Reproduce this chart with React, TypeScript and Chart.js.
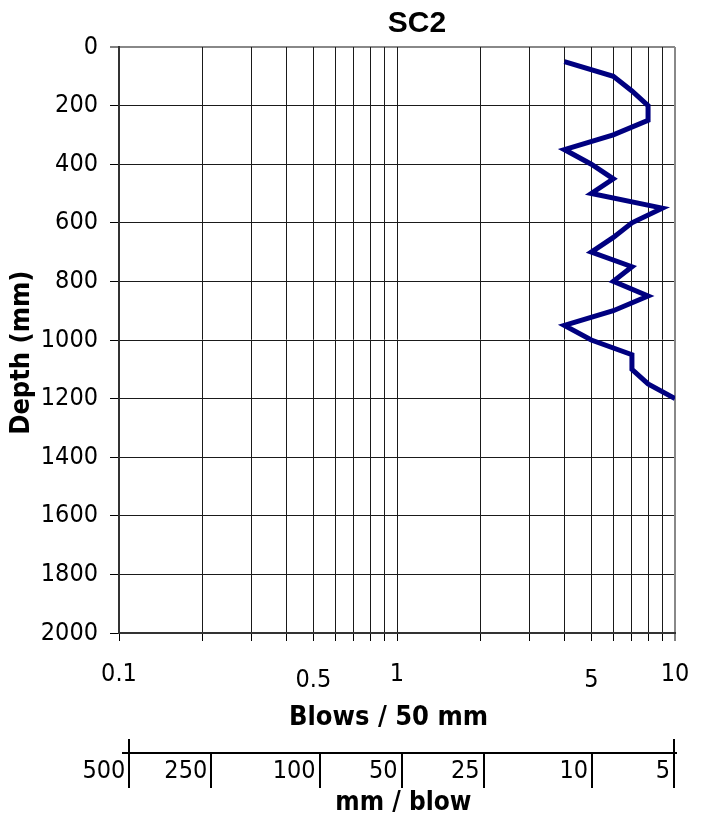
import React, { useEffect, useRef } from 'react';
import { Chart, registerables } from 'chart.js';

Chart.register(...registerables);

// ---- data ----
const depthsMm = [50, 100, 150, 200, 250, 300, 350, 400, 450, 500, 550, 600, 650, 700, 750, 800, 850, 900, 950, 1000, 1050, 1100, 1150, 1200];
const blowsPer50mm = [4, 6, 7, 8, 8, 6, 4, 5, 6, 5, 9, 7, 6, 5, 7, 6, 8, 6, 4, 5, 7, 7, 8, 10];

const blowsGridValues = [0.1, 0.2, 0.3, 0.4, 0.5, 0.6, 0.7, 0.8, 0.9, 1, 2, 3, 4, 5, 6, 7, 8, 9, 10];
const blowsTickLabels = [0.1, 0.5, 1, 5, 10];
const blowsLoweredLabels = [0.5, 5];
const depthMin = 0;
const depthMax = 2000;
const depthStep = 200;
const mmPerBlowTicks = [500, 250, 100, 50, 25, 10, 5];

const chartTitle = 'SC2';
const yTitle = 'Depth (mm)';
const xTitle = 'Blows / 50 mm';
const x2Title = 'mm / blow';

const FONT = "'DejaVu Sans Condensed', 'DejaVu Sans', sans-serif";
const NBSP = '\u00a0';

export default function App() {
  const mainRef = useRef<HTMLCanvasElement | null>(null);
  const axisRef = useRef<HTMLCanvasElement | null>(null);

  useEffect(() => {
    const main = new Chart(mainRef.current as HTMLCanvasElement, {
      type: 'scatter',
      data: {
        datasets: [
          {
            data: depthsMm.map((d, i) => ({ x: blowsPer50mm[i], y: d })),
            showLine: true,
            borderColor: '#000080',
            backgroundColor: '#000080',
            borderWidth: 5,
            pointRadius: 0,
            pointHoverRadius: 0,
            tension: 0,
            xAxisID: 'x',
            yAxisID: 'y',
          } as any,
        ],
      },
      options: {
        responsive: false,
        animation: false,
        events: [],
        layout: { padding: 0 },
        plugins: {
          legend: { display: false },
          tooltip: { enabled: false },
          title: {
            display: true,
            text: chartTitle,
            color: '#000',
            font: { family: "'Liberation Sans', Arial, sans-serif", size: 30, weight: 'bold', lineHeight: 1.2 },
            padding: { top: 6, bottom: 5 },
          },
        },
        scales: {
          y: {
            type: 'linear',
            position: 'left',
            reverse: true,
            min: depthMin,
            max: depthMax,
            ticks: {
              stepSize: depthStep,
              color: '#000',
              font: { family: FONT, size: 25 },
              padding: 12,
              callback: (v: any) => String(v),
            },
            grid: {
              color: (ctx: any) => (ctx.tick && ctx.tick.value === depthMin ? '#888888' : '#1a1a1a'),
              lineWidth: (ctx: any) => (ctx.tick && ctx.tick.value === depthMin ? 2 : 1),
              tickLength: 9,
              tickColor: '#000',
              tickWidth: 1,
            },
            border: { color: '#333', width: 2 },
            title: {
              display: true,
              text: yTitle + NBSP + NBSP + NBSP,
              color: '#000',
              font: { family: FONT, size: 27, weight: 'bold', lineHeight: 1.2 },
              padding: { top: 5.8, bottom: 0 },
            },
            afterFit: (s: any) => {
              s.width = 119;
            },
          },
          x: {
            type: 'logarithmic',
            position: 'bottom',
            min: blowsGridValues[0],
            max: blowsGridValues[blowsGridValues.length - 1],
            afterBuildTicks: (s: any) => {
              s.ticks = blowsGridValues.map((v) => ({ value: v }));
            },
            ticks: {
              autoSkip: false,
              maxRotation: 0,
              minRotation: 0,
              color: '#000',
              padding: 18,
              font: (ctx: any) => ({
                family: FONT,
                size: 25,
                lineHeight: ctx.tick && blowsLoweredLabels.includes(ctx.tick.value) ? '42px' : '30px',
              }),
              callback: (v: any) => (blowsTickLabels.includes(Number(v)) ? String(v) : ''),
            },
            grid: {
              color: (ctx: any) => (ctx.tick && ctx.tick.value === 10 ? '#888888' : '#1a1a1a'),
              lineWidth: (ctx: any) => (ctx.tick && ctx.tick.value === 10 ? 2 : 1),
              tickLength: 8,
              tickColor: '#000',
              tickWidth: 1,
            },
            border: { color: '#333', width: 2 },
            title: {
              display: true,
              text: xTitle + NBSP + NBSP,
              color: '#000',
              font: { family: FONT, size: 27, weight: 'bold', lineHeight: 1.2 },
              padding: { top: 0, bottom: 5.5 },
            },
            afterFit: (s: any) => {
              s.height = 107;
            },
          },
          yR: {
            type: 'linear',
            position: 'right',
            display: true,
            grid: { display: false },
            ticks: { display: false },
            border: { display: false },
            afterFit: (s: any) => {
              s.width = 159;
            },
          },
        } as any,
      },
    });

    const secondary = new Chart(axisRef.current as HTMLCanvasElement, {
      type: 'scatter',
      data: { datasets: [] },
      options: {
        responsive: false,
        animation: false,
        events: [],
        layout: { padding: { left: 123, right: 28.5, top: 19, bottom: 0 } },
        plugins: { legend: { display: false }, tooltip: { enabled: false }, title: { display: false } },
        scales: {
          x: {
            type: 'logarithmic',
            position: 'bottom',
            reverse: true,
            min: 4.937,
            max: 527.4,
            afterBuildTicks: (s: any) => {
              s.ticks = mmPerBlowTicks.map((v) => ({ value: v }));
            },
            ticks: {
              autoSkip: false,
              maxRotation: 0,
              minRotation: 0,
              align: 'end',
              labelOffset: -4,
              color: '#000',
              padding: -31.7,
              font: { family: FONT, size: 25, lineHeight: '30px' },
              callback: (v: any) => String(v),
            },
            grid: {
              drawOnChartArea: true,
              color: (ctx: any) =>
                ctx.index === 0 || ctx.index === mmPerBlowTicks.length - 1 ? '#000' : 'rgba(0,0,0,0)',
              lineWidth: 2,
              tickLength: 35,
              tickColor: '#000',
              tickWidth: 2,
            },
            border: { display: true, color: '#000', width: 2 },
            title: {
              display: true,
              text: NBSP + x2Title,
              color: '#000',
              font: { family: FONT, size: 26, weight: 'bold', lineHeight: 1 },
              padding: { top: 0, bottom: 1 },
            },
            afterFit: (s: any) => {
              s.height = 64;
            },
          },
          y: { display: false, min: 0, max: 1 },
        } as any,
      },
    });

    return () => {
      main.destroy();
      secondary.destroy();
    };
  }, []);

  return (
    <div
      style={{
        position: 'absolute',
        left: 0,
        top: 0,
        width: 704,
        height: 817,
        overflow: 'hidden',
        background: '#fff',
      }}
    >
      <canvas ref={mainRef} width={834} height={740} style={{ position: 'absolute', left: 0, top: 0, width: 834, height: 740 }} />
      <canvas ref={axisRef} width={704} height={97} style={{ position: 'absolute', left: 0, top: 720, width: 704, height: 97 }} />
    </div>
  );
}
